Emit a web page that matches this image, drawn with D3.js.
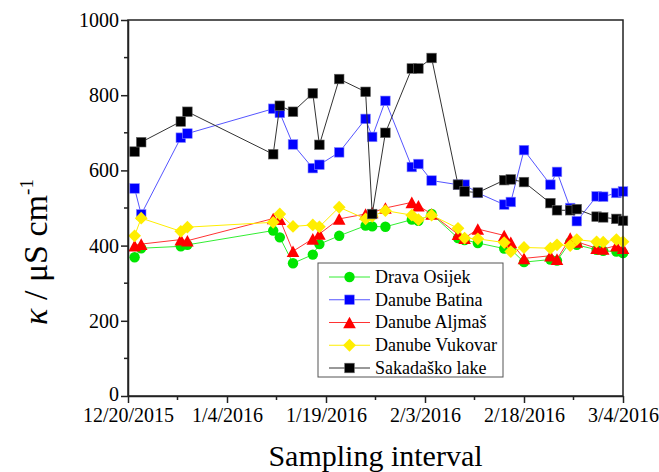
<!DOCTYPE html>
<html>
<head>
<meta charset="utf-8">
<script src="https://cdn.jsdelivr.net/npm/d3@7/dist/d3.min.js"></script>
<style>
  html, body { margin: 0; padding: 0; background: #fff; }
  svg { display: block; }
  text { font-family: "Liberation Serif", "Times New Roman", serif; fill: #000; }
</style>
</head>
<body>
<svg id="chart" width="659" height="472"></svg>
<script>
// ---- data ----
const sampleDates = ["2015-12-21","2015-12-22","2015-12-28","2015-12-29","2016-01-11","2016-01-12","2016-01-14","2016-01-17","2016-01-18","2016-01-21","2016-01-25","2016-01-26","2016-01-28","2016-02-01","2016-02-02","2016-02-04","2016-02-08","2016-02-09","2016-02-11","2016-02-15","2016-02-16","2016-02-18","2016-02-22","2016-02-23","2016-02-25","2016-02-26","2016-02-29","2016-03-01","2016-03-03","2016-03-04"];
const dravaOsijek   = [369,393,398,402,440,422,353,376,404,426,453,451,450,469,466,484,420,415,407,392,390,356,363,360,409,402,389,386,384,380];
const danubeBatina  = [552,483,687,698,764,753,669,606,615,648,737,689,785,609,617,573,562,562,540,509,516,654,562,596,500,465,531,530,540,544];
const danubeAljmas  = [400,404,416,413,472,470,385,418,431,471,484,488,500,515,506,484,430,420,444,427,409,366,373,364,420,410,393,391,400,393];
const danubeVukovar = [426,473,438,449,462,484,451,455,450,502,471,478,493,481,469,481,446,420,418,408,384,395,393,402,400,416,410,409,416,410];
const sakadaskoLake = [650,675,730,756,643,772,756,805,668,843,809,484,700,871,871,899,562,544,541,574,576,569,513,494,494,497,477,475,471,466];
const seriesNames = ["Drava Osijek","Danube Batina","Danube Aljmaš","Danube Vukovar","Sakadaško lake"];
const xTickLabels = ["12/20/2015","1/4/2016","1/19/2016","2/3/2016","2/18/2016","3/4/2016"];
const yTicks = [0,200,400,600,800,1000];

// ---- setup ----
const parse = d3.utcParse("%Y-%m-%d");
const parseTick = d3.utcParse("%m/%d/%Y");
const dates = sampleDates.map(parse);
const tickDates = xTickLabels.map(parseTick);

const svg = d3.select("#chart");
const L = 128, R = 623, T = 20, B = 396;
const x = d3.scaleUtc().domain([tickDates[0], tickDates[tickDates.length-1]]).range([L, R]);
const y = d3.scaleLinear().domain([0, 1000]).range([B, T]);

const styles = [
  {color:"#00e600", line:"#33ee33", shape:"circle"},
  {color:"#0000ff", line:"#5555ff", shape:"square"},
  {color:"#ff0000", line:"#ff3333", shape:"triangle"},
  {color:"#ffee00", line:"#ffee00", shape:"diamond"},
  {color:"#000000", line:"#333333", shape:"square"}
];
const values = [dravaOsijek, danubeBatina, danubeAljmas, danubeVukovar, sakadaskoLake];

function marker(g, shape, cx, cy, color) {
  if (shape === "circle") {
    g.append("circle").attr("cx", cx).attr("cy", cy).attr("r", 5.2).attr("fill", color);
  } else if (shape === "square") {
    g.append("rect").attr("x", cx-4.8).attr("y", cy-4.8).attr("width", 9.6).attr("height", 9.6).attr("fill", color)
      .attr("stroke", color === "#000000" ? "#666" : "#8888ff").attr("stroke-width", 0.6);
  } else if (shape === "triangle") {
    const h = 5.8;
    g.append("path").attr("d", `M${cx},${cy-h}L${cx+h+0.5},${cy+h}L${cx-h-0.5},${cy+h}Z`).attr("fill", color);
  } else if (shape === "diamond") {
    const h = 6.4;
    g.append("path").attr("d", `M${cx},${cy-h}L${cx+h},${cy}L${cx},${cy+h}L${cx-h},${cy}Z`).attr("fill", color);
  }
}

// ---- series ----
const plot = svg.append("g");
values.forEach((vals, i) => {
  const st = styles[i];
  const pts = vals.map((v, j) => [x(dates[j]), y(v)]);
  plot.append("path").attr("d", d3.line()(pts)).attr("fill", "none").attr("stroke", st.line).attr("stroke-width", 1);
  const mg = plot.append("g");
  pts.forEach(p => marker(mg, st.shape, p[0], p[1], st.color));
});

// ---- axes ----
const axisColor = "#222";
svg.append("rect").attr("x", L).attr("y", T).attr("width", R-L).attr("height", B-T)
  .attr("fill", "none").attr("stroke", axisColor).attr("stroke-width", 1.5);

const xAxis = svg.append("g").attr("transform", `translate(0,${B})`)
  .call(d3.axisBottom(x).tickValues(tickDates).tickFormat((d,i) => xTickLabels[i]).tickSize(7).tickSizeOuter(0));
const minorX = d3.range(tickDates.length-1).map(i => new Date((tickDates[i].getTime()+tickDates[i+1].getTime())/2));
svg.append("g").selectAll("line").data(minorX).join("line")
  .attr("x1", d => x(d)).attr("x2", d => x(d)).attr("y1", B).attr("y2", B+4).attr("stroke", axisColor).attr("stroke-width", 1.5);

const yAxis = svg.append("g").attr("transform", `translate(${L},0)`)
  .call(d3.axisLeft(y).tickValues(yTicks).tickFormat(d3.format("d")).tickSize(7).tickSizeOuter(0));
const minorY = d3.range(100, 1000, 200);
svg.append("g").selectAll("line").data(minorY).join("line")
  .attr("x1", L-4).attr("x2", L).attr("y1", d => y(d)).attr("y2", d => y(d)).attr("stroke", axisColor).attr("stroke-width", 1.5);

[xAxis, yAxis].forEach(a => {
  a.select(".domain").attr("stroke", axisColor).attr("stroke-width", 1.5);
  a.selectAll(".tick line").attr("stroke", axisColor).attr("stroke-width", 1.5);
  a.selectAll(".tick text").attr("font-family", "Liberation Serif, serif").attr("font-size", 20).attr("fill", "#000");
});
xAxis.selectAll(".tick text").attr("dy", "0.78em").attr("y", 10);
yAxis.selectAll(".tick text").attr("x", -9);
yAxis.selectAll(".tick").filter(d => d === 0).select("text").attr("dy", "0.2em");

// ---- titles ----
svg.append("text").attr("x", (L+R)/2).attr("y", 466).attr("text-anchor", "middle")
  .attr("font-size", 30).text("Sampling interval");

const yt = svg.append("text").attr("transform", "translate(47,252) rotate(-90)").attr("text-anchor", "middle").attr("font-size", 34);
yt.append("tspan").attr("font-style", "italic").text("κ");
yt.append("tspan").text(" / μS cm");
yt.append("tspan").attr("font-size", 19).attr("dy", -14).text("-1");

// ---- legend ----
const lg = svg.append("g");
lg.append("rect").attr("x", 318).attr("y", 263).attr("width", 185).attr("height", 114)
  .attr("fill", "#fff").attr("stroke", "#555").attr("stroke-width", 1);
seriesNames.forEach((name, i) => {
  const ly = 277 + i * 22.75;
  const st = styles[i];
  lg.append("line").attr("x1", 329).attr("x2", 370).attr("y1", ly).attr("y2", ly).attr("stroke", st.line).attr("stroke-width", 1);
  marker(lg, st.shape, 349.5, ly, st.color);
  lg.append("text").attr("x", 375).attr("y", ly).attr("dy", "0.33em").attr("font-size", 18).text(name);
});
</script>
</body>
</html>
